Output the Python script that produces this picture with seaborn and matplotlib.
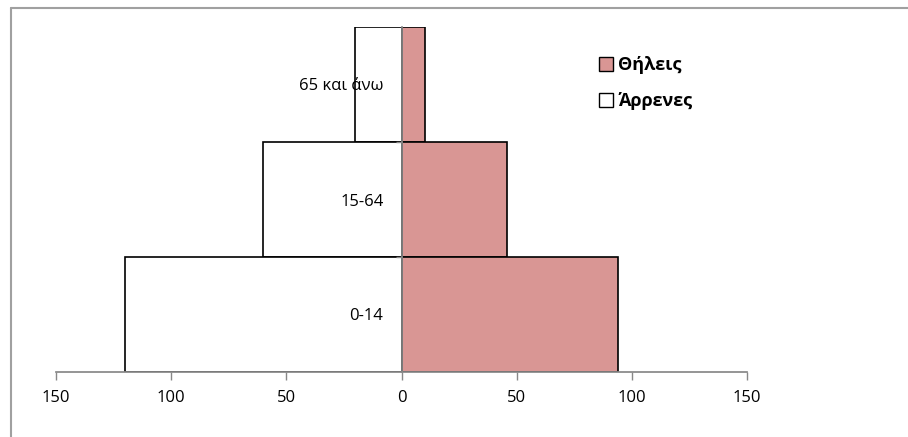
import pandas as pd
import matplotlib.pyplot as plt
import seaborn as sns
from matplotlib.patches import Patch
from matplotlib.lines import Line2D

# population pyramid data
age_groups = ["65 και άνω", "15-64", "0-14"]
males = [20, 60, 120]
females = [10, 46, 94]
x_ticks = [-150, -100, -50, 0, 50, 100, 150]

PINK = "#D99694"
GREY = "#888888"

sns.set_theme(style="white")
plt.rcParams['font.family'] = ['Open Sans', 'DejaVu Sans']
plt.rcParams['text.color'] = 'black'
plt.rcParams['xtick.color'] = 'black'
plt.rcParams['ytick.color'] = 'black'

df = pd.DataFrame({
    "group": age_groups * 2,
    "value": [-m for m in males] + females,
    "sex": ["Άρρενες"] * len(males) + ["Θήλεις"] * len(females),
})

fig = plt.figure(figsize=(9.08, 4.37), dpi=100)
ax = fig.add_axes([56 / 908, 65 / 437, 691 / 908, 345 / 437])

sns.barplot(data=df[df["sex"] == "Άρρενες"], x="value", y="group", order=age_groups,
            orient="h", color="white", saturation=1, width=1.0,
            edgecolor="black", linewidth=1.2, ax=ax)
sns.barplot(data=df[df["sex"] == "Θήλεις"], x="value", y="group", order=age_groups,
            orient="h", color=PINK, saturation=1, width=1.0,
            edgecolor="black", linewidth=1.2, ax=ax)

ax.set_axisbelow(False)  # category labels sit on top of the bars
ax.set_xlim(-150, 150)
ax.set_ylim(2.5, -0.5)
ax.set_xticks(x_ticks)
ax.set_xticklabels([str(abs(t)) for t in x_ticks])
ax.set_xlabel("")
ax.set_ylabel("")

ax.spines["top"].set_visible(False)
ax.spines["right"].set_visible(False)
ax.spines["left"].set_position(("data", 0))
ax.spines["left"].set_color(GREY)
ax.spines["bottom"].set_color(GREY)

ax.tick_params(axis="x", length=6, width=1, color=GREY, direction="out",
               labelsize=12, labelcolor="black", pad=7, bottom=True)
ax.tick_params(axis="y", which="major", length=0, labelsize=12,
               labelcolor="black", pad=13)
ax.set_yticks([0.5, 1.5], minor=True)
ax.tick_params(axis="y", which="minor", length=4, color=GREY, left=True)

handles = [Patch(facecolor=PINK, edgecolor="black"),
           Patch(facecolor="white", edgecolor="black")]
fig.legend(handles, ["Θήλεις", "Άρρενες"], loc="upper left",
           bbox_to_anchor=(583 / 908, 1 - 40 / 437), frameon=False,
           prop={"weight": "bold", "size": 13}, handlelength=0.75,
           handleheight=0.75, handletextpad=0.3, labelspacing=1.0)

# chart-area border (only the top and left edges are in view)
fig.add_artist(Line2D([11 / 908, 11 / 908], [0, 1 - 8 / 437],
                      transform=fig.transFigure, color="#A0A0A0", lw=1.5))
fig.add_artist(Line2D([11 / 908, 1], [1 - 8 / 437, 1 - 8 / 437],
                      transform=fig.transFigure, color="#A0A0A0", lw=1.5))

fig.savefig("out.png", dpi=100)
